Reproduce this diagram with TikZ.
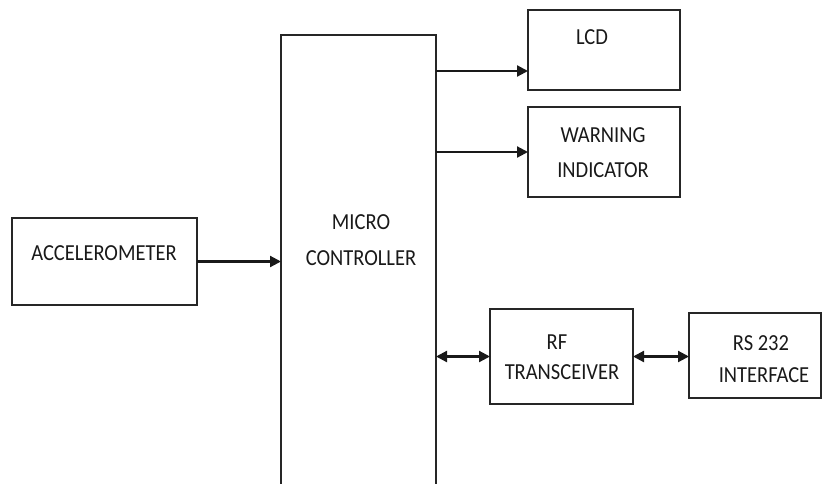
\documentclass[tikz,border=0pt]{standalone}
\usepackage{fontspec}
\setmainfont{Carlito}
\usepackage{graphicx}
\usetikzlibrary{arrows.meta}
\newcommand{\stretchtxt}[1]{\scalebox{1}[1.12]{#1}}
\begin{document}
\begin{tikzpicture}[x=1pt,y=-1pt,
  box/.style={draw=black!85, line width=2.2pt, rectangle, inner sep=0pt, outer sep=0pt, anchor=north west},
  lbl/.style={font=\fontsize{20.5}{24}\selectfont, text=black!90, inner sep=0pt},
  tip/.style={},
  conn/.style={line width=2.2pt, draw=black!90, -{Triangle[length=11pt,width=11pt]}},
  bconn/.style={line width=2.2pt, draw=black!90, {Triangle[length=11pt,width=11pt]}-{Triangle[length=11pt,width=11pt]}}]
\useasboundingbox (0,0) rectangle (824,483);
% boxes
\node[box, minimum width=185pt, minimum height=87pt] (acc) at (12,218) {};
\node[box, minimum width=155pt, minimum height=470pt] (mc) at (281,35) {};
\node[box, minimum width=152pt, minimum height=80pt] (lcd) at (528,10) {};
\node[box, minimum width=152pt, minimum height=90pt] (warn) at (528,107) {};
\node[box, minimum width=143pt, minimum height=95pt] (rf) at (490,309) {};
\node[box, minimum width=132pt, minimum height=85pt] (rs) at (689,313) {};
% texts
\node[lbl] (tacc) at (104,253) {\stretchtxt{ACCELEROMETER}};
\node[lbl] (tmc1) at (361,222) {\stretchtxt{MICRO}};
\node[lbl] (tmc2) at (361,258) {\stretchtxt{CONTROLLER}};
\node[lbl] (tlcd) at (592,37) {\stretchtxt{LCD}};
\node[lbl] (tw1) at (603,135) {\stretchtxt{WARNING}};
\node[lbl] (tw2) at (603,170) {\stretchtxt{INDICATOR}};
\node[lbl] (trf1) at (557,342) {\stretchtxt{RF}};
\node[lbl] (trf2) at (562,372) {\stretchtxt{TRANSCEIVER}};
\node[lbl] (trs1) at (761,343) {\stretchtxt{RS 232}};
\node[lbl] (trs2) at (764,375) {\stretchtxt{INTERFACE}};
% connectors
\draw[conn] (acc.east) -- (acc.east -| mc.west);
\draw[conn] (mc.east |- {0,71}) -- (lcd.west |- {0,71});
\draw[conn] (mc.east |- warn.west) -- (warn.west);
\draw[bconn] (mc.east |- rf.west) -- (rf.west);
\draw[bconn] (rf.east) -- (rf.east -| rs.west);
\end{tikzpicture}
\end{document}
